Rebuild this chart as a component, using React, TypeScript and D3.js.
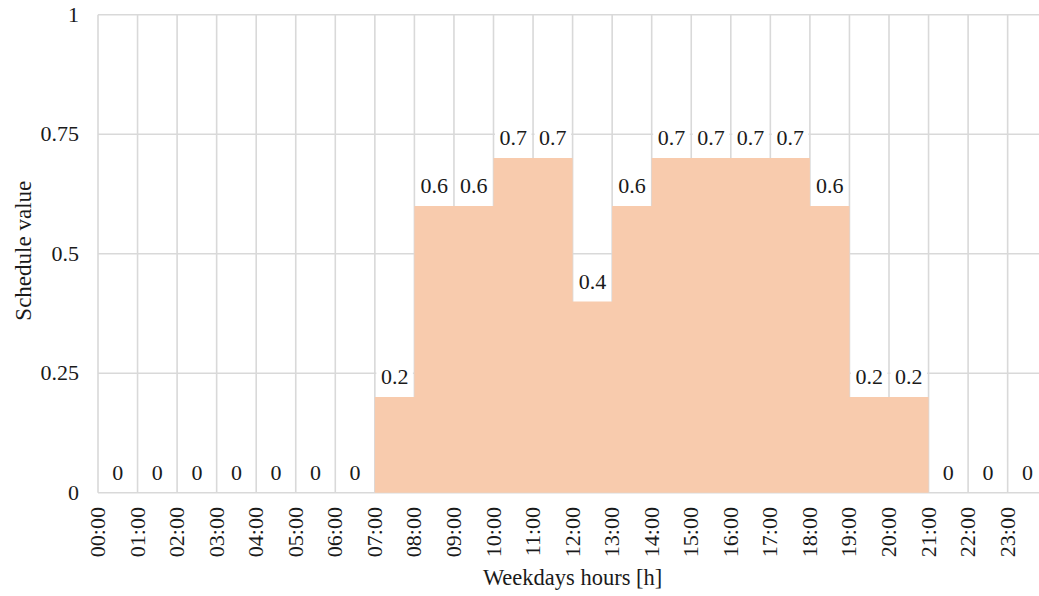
import React from "react";
import * as d3 from "d3";

const hours = ["00:00","01:00","02:00","03:00","04:00","05:00","06:00","07:00","08:00","09:00","10:00","11:00","12:00","13:00","14:00","15:00","16:00","17:00","18:00","19:00","20:00","21:00","22:00","23:00"];
const values = [0,0,0,0,0,0,0,0.2,0.6,0.6,0.7,0.7,0.4,0.6,0.7,0.7,0.7,0.7,0.6,0.2,0.2,0,0,0];
const yTicks = [0, 0.25, 0.5, 0.75, 1];
const yTickLabels = ["0", "0.25", "0.5", "0.75", "1"];

const W = 1039, H = 596;
const left = 98, colW = 39.55, top = 14.7, bottom = 492.7;
const FONT = "'Liberation Serif', 'Times New Roman', serif";

export default function App() {
  const x = d3.scaleLinear().domain([0, 24]).range([left, left + 24 * colW]);
  const y = d3.scaleLinear().domain([0, 1]).range([bottom, top]);
  const stepData = values.map((v, i) => ({ i, v })).concat([{ i: 24, v: values[23] }]);
  const area = d3.area<{ i: number; v: number }>()
    .x(d => x(d.i))
    .y0(y(0))
    .y1(d => y(d.v))
    .curve(d3.curveStepAfter);
  const grid = "#d9d9d9";
  return (
    <svg width={W} height={H} style={{ position: "absolute", left: 0, top: 0, background: "#fff" }} fontFamily={FONT}>
      {yTicks.map(t => (
        <line key={"h" + t} x1={x(0)} x2={x(24)} y1={y(t)} y2={y(t)} stroke={grid} strokeWidth={1.6} />
      ))}
      {d3.range(0, 25).map(i => (
        <line key={"v" + i} x1={x(i)} x2={x(i)} y1={y(1)} y2={y(0)} stroke={grid} strokeWidth={1.6} />
      ))}
      <path d={area(stepData) || ""} fill="#f8cbad" />
      {values.map((v, i) => {
        const cx = x(i + 0.5);
        const by = y(v);
        return (
          <g key={"l" + i}>
            <rect x={x(i) + 1.5} y={by - 31} width={colW - 3} height={29.5} fill="#fff" />
            <text x={cx} y={by - 13} textAnchor="middle" fontSize={22} fill="#1a1a1a">{String(v)}</text>
          </g>
        );
      })}
      {yTicks.map((t, k) => (
        <text key={"yt" + t} x={79} y={y(t) + 7} textAnchor="end" fontSize={22} fill="#1a1a1a">{yTickLabels[k]}</text>
      ))}
      {hours.map((h, i) => (
        <text key={"xt" + i} transform={`translate(${x(i) + 7},${507}) rotate(-90)`} textAnchor="end" fontSize={22} fill="#1a1a1a">{h}</text>
      ))}
      <text x={(x(0) + x(24)) / 2} y={585} textAnchor="middle" fontSize={22.5} fill="#1a1a1a">Weekdays hours [h]</text>
      <text transform={`translate(31,${(top + bottom) / 2 - 3}) rotate(-90)`} textAnchor="middle" fontSize={23} fill="#1a1a1a">Schedule value</text>
    </svg>
  );
}
